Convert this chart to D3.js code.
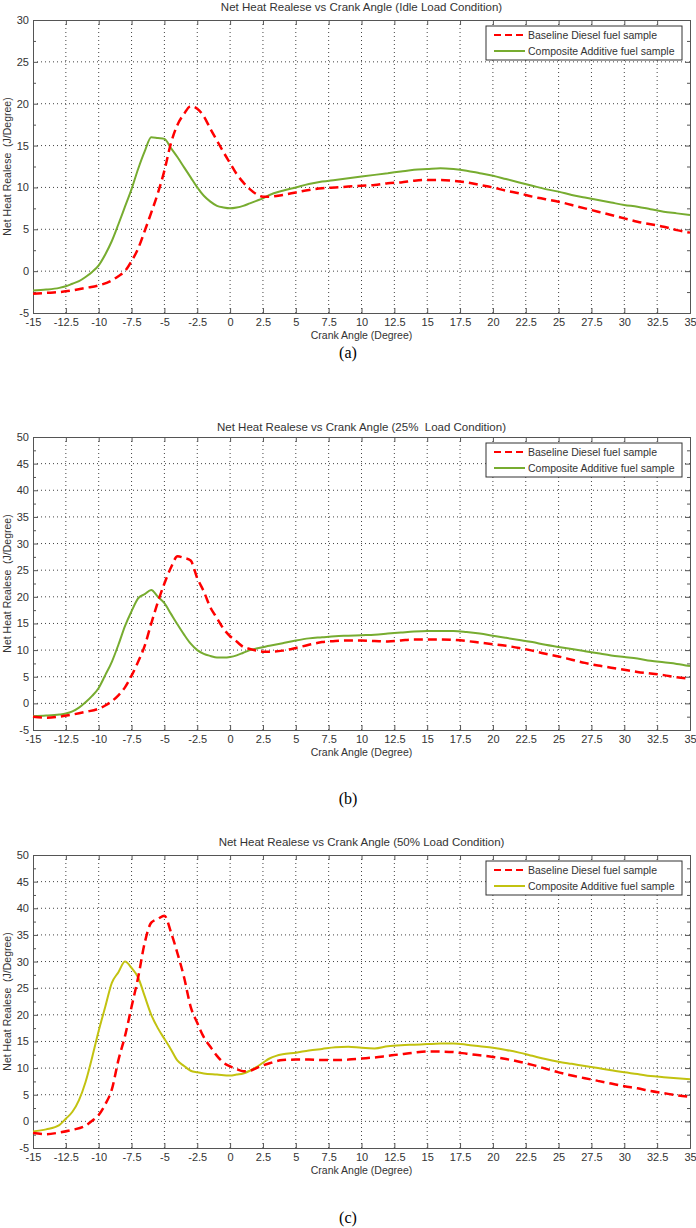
<!DOCTYPE html>
<html>
<head>
<meta charset="utf-8">
<script src="https://cdn.jsdelivr.net/npm/d3@7"></script>
<style>
  body { margin: 0; background: #fff; }
  svg { display: block; font-family: "Liberation Sans", Arial, sans-serif; }
  .tick text { fill: #333; font-size: 11px; }
  .axis path, .axis line { stroke: #555; }
  .pre { white-space: pre; }
</style>
</head>
<body>
<script>
// crank angle ticks shared by all three panels
const angleTicks = [-15, -12.5, -10, -7.5, -5, -2.5, 0, 2.5, 5, 7.5, 10, 12.5, 15, 17.5, 20, 22.5, 25, 27.5, 30, 32.5, 35];
const seriesNames = ['Baseline Diesel fuel sample', 'Composite Additive fuel sample'];

// (a) idle load : [angle, J/deg]
const idleBaseline = [[-15,-2.7],[-14,-2.6],[-13,-2.5],[-12,-2.3],[-11,-2.0],[-10,-1.7],[-9,-1.1],[-8.5,-0.6],[-8,0],[-7.5,1.2],[-7,2.7],[-6.5,4.8],[-6,7.0],[-5.5,9.3],[-5,12.0],[-4.5,15.3],[-4,17.5],[-3.5,18.8],[-3,19.7],[-2.5,19.4],[-2,18.5],[-1.5,17.0],[-1,15.6],[-0.5,14.2],[0,12.9],[0.5,11.6],[1,10.6],[1.5,9.8],[2,9.2],[2.5,8.9],[3,8.9],[4,9.1],[5,9.4],[6,9.7],[7,9.9],[8,10.0],[9,10.1],[10,10.2],[11,10.3],[12,10.5],[13,10.6],[14,10.8],[15,10.9],[16,10.9],[17,10.8],[18,10.6],[19,10.3],[20,10.0],[21,9.6],[22,9.3],[23,8.9],[24,8.6],[25,8.3],[26,7.9],[27,7.5],[28,7.1],[29,6.7],[30,6.3],[31,5.9],[32,5.6],[33,5.3],[34,4.9],[35,4.6]];
const idleAdditive = [[-15,-2.3],[-14,-2.2],[-13,-2.0],[-12.5,-1.8],[-12,-1.5],[-11.5,-1.2],[-11,-0.7],[-10.5,-0.1],[-10,0.7],[-9.5,2.0],[-9,3.6],[-8.5,5.6],[-8,7.7],[-7.5,9.8],[-7,12.2],[-6.5,14.3],[-6,16.0],[-5.5,15.9],[-5,15.8],[-4.5,14.7],[-4,13.6],[-3.5,12.4],[-3,11.2],[-2.5,10.0],[-2,9.0],[-1.5,8.3],[-1,7.8],[-0.5,7.6],[0,7.5],[0.5,7.6],[1,7.8],[1.5,8.1],[2,8.4],[2.5,8.7],[3,9.1],[4,9.6],[5,10.0],[6,10.4],[7,10.7],[8,10.9],[9,11.1],[10,11.3],[11,11.5],[12,11.7],[13,11.9],[14,12.1],[15,12.2],[16,12.3],[17,12.2],[18,12.0],[19,11.7],[20,11.4],[21,11.0],[22,10.6],[23,10.2],[24,9.8],[25,9.5],[26,9.1],[27,8.8],[28,8.5],[29,8.2],[30,7.9],[31,7.7],[32,7.4],[33,7.1],[34,6.9],[35,6.7]];

// (b) 25% load
const load25Baseline = [[-15,-2.5],[-14,-2.7],[-13,-2.5],[-12,-2.1],[-11,-1.6],[-10,-1.0],[-9.5,-0.4],[-9,0.4],[-8.5,1.5],[-8,3.0],[-7.5,5.2],[-7,7.8],[-6.5,10.8],[-6,15.0],[-5.5,19.0],[-5,22.5],[-4.5,25.5],[-4,27.6],[-3.5,27.3],[-3,26.8],[-2.5,23.5],[-2,21.0],[-1.5,18.0],[-1,16.0],[-0.5,14.0],[0,12.6],[0.5,11.6],[1,10.6],[1.5,10.2],[2,9.9],[2.5,9.7],[3,9.7],[4,9.9],[5,10.4],[6,11.0],[7,11.5],[8,11.7],[9,11.8],[10,11.8],[11,11.7],[12,11.6],[13,11.8],[14,12.0],[15,12.0],[16,12.0],[17,11.9],[18,11.7],[19,11.4],[20,11.1],[21,10.8],[22,10.4],[23,9.9],[24,9.3],[25,8.8],[26,8.2],[27,7.6],[28,7.1],[29,6.7],[30,6.3],[31,5.9],[32,5.6],[33,5.3],[34,4.9],[35,4.6]];
const load25Additive = [[-15,-2.4],[-14,-2.3],[-13,-2.1],[-12.5,-1.9],[-12,-1.5],[-11.5,-0.8],[-11,0.2],[-10.5,1.4],[-10,2.9],[-9.5,5.3],[-9,7.8],[-8.5,11.0],[-8,14.5],[-7.5,17.3],[-7,19.7],[-6.5,20.5],[-6,21.3],[-5.5,20.0],[-5,18.8],[-4.5,16.8],[-4,14.8],[-3.5,12.9],[-3,11.2],[-2.5,10.0],[-2,9.3],[-1.5,8.9],[-1,8.6],[-0.5,8.6],[0,8.7],[0.5,9.0],[1,9.5],[1.5,10.0],[2,10.3],[3,10.8],[4,11.3],[5,11.8],[6,12.2],[7,12.4],[8,12.6],[9,12.7],[10,12.8],[11,12.9],[12,13.1],[13,13.3],[14,13.5],[15,13.6],[16,13.6],[17,13.6],[18,13.4],[19,13.1],[20,12.7],[21,12.3],[22,11.9],[23,11.5],[24,11.0],[25,10.6],[26,10.2],[27,9.8],[28,9.4],[29,9.0],[30,8.7],[31,8.4],[32,8.0],[33,7.7],[34,7.4],[35,7.0]];

// (c) 50% load
const load50Baseline = [[-15,-2.2],[-14,-2.4],[-13,-2.1],[-12,-1.6],[-11,-0.8],[-10.5,0.1],[-10,1.2],[-9.5,3.2],[-9,6.0],[-8.5,11.5],[-8,16.0],[-7.5,21.5],[-7,27.0],[-6.5,33.5],[-6,37.3],[-5.5,38.0],[-5,38.6],[-4.5,35.5],[-4,31.5],[-3.5,27.0],[-3,21.5],[-2.5,18.5],[-2,15.8],[-1.5,14.0],[-1,12.3],[-0.5,11.0],[0,10.3],[0.5,9.8],[1,9.4],[1.5,9.5],[2,10.0],[2.5,10.5],[3,10.9],[4,11.5],[5,11.6],[6,11.6],[7,11.5],[8,11.5],[9,11.6],[10,11.8],[11,12.0],[12,12.3],[13,12.6],[14,12.9],[15,13.1],[16,13.1],[17,13.0],[18,12.7],[19,12.4],[20,12.1],[21,11.7],[22,11.2],[23,10.6],[24,9.9],[25,9.2],[26,8.6],[27,8.1],[28,7.6],[29,7.1],[30,6.6],[31,6.2],[32,5.7],[33,5.3],[34,4.9],[35,4.6]];
const load50Additive = [[-15,-1.9],[-14,-1.5],[-13,-0.7],[-12.5,0.5],[-12,1.8],[-11.5,4.0],[-11,7.4],[-10.5,12.0],[-10,17.0],[-9.5,21.5],[-9,26.0],[-8.5,28.0],[-8,30.0],[-7.5,28.8],[-7,27.0],[-6.5,23.5],[-6,20.0],[-5.5,17.5],[-5,15.5],[-4.5,13.5],[-4,11.4],[-3.5,10.4],[-3,9.5],[-2.5,9.2],[-2,9.0],[-1,8.8],[0,8.6],[0.5,8.8],[1,9.0],[1.5,9.5],[2,10.2],[2.5,11.0],[3,11.8],[3.5,12.3],[4,12.6],[5,12.9],[6,13.3],[7,13.6],[8,13.9],[9,14.0],[10,13.8],[11,13.7],[12,14.1],[13,14.3],[14,14.4],[15,14.5],[16,14.6],[17,14.6],[18,14.4],[19,14.1],[20,13.8],[21,13.4],[22,12.9],[23,12.3],[24,11.7],[25,11.2],[26,10.8],[27,10.4],[28,10.0],[29,9.6],[30,9.2],[31,8.9],[32,8.5],[33,8.3],[34,8.1],[35,7.9]];

const panels = [
  { title: 'Net Heat Realese vs Crank Angle (Idle Load Condition)', caption: '(a)',
    top: 20, yMax: 30, titleY: 11, captionY: 358, color: '#77ac30',
    baseline: idleBaseline, additive: idleAdditive },
  { title: 'Net Heat Realese vs Crank Angle (25%  Load Condition)', caption: '(b)',
    top: 437, yMax: 50, titleY: 431, captionY: 804, color: '#77ac30',
    baseline: load25Baseline, additive: load25Additive },
  { title: 'Net Heat Realese vs Crank Angle (50% Load Condition)', caption: '(c)',
    top: 855, yMax: 50, titleY: 846, captionY: 1223, color: '#c2c210',
    baseline: load50Baseline, additive: load50Additive }
];

const W = 696, H = 1228;
const left = 33, right = 690, plotH = 293;

const svg = d3.select('body').append('svg')
  .attr('width', W)
  .attr('height', H);

const x = d3.scaleLinear().domain([-15, 35]).range([left, right]);

panels.forEach(p => {
  const bottom = p.top + plotH;
  const y = d3.scaleLinear().domain([-5, p.yMax]).range([bottom, p.top]);
  const yTicks = d3.range(-5, p.yMax + 0.1, 5);
  const yMinor = d3.range(-2.5, p.yMax, 5);
  const g = svg.append('g');

  // dotted grid
  g.append('g').selectAll('line')
    .data(angleTicks.slice(1, -1))
    .join('line')
      .attr('x1', d => x(d)).attr('x2', d => x(d))
      .attr('y1', p.top).attr('y2', bottom)
      .attr('stroke', '#444').attr('stroke-dasharray', '1,3');
  g.append('g').selectAll('line')
    .data(yTicks.slice(1, -1))
    .join('line')
      .attr('y1', d => y(d)).attr('y2', d => y(d))
      .attr('x1', left).attr('x2', right)
      .attr('stroke', '#444').attr('stroke-dasharray', '1,3');

  // axes, matlab style with inward ticks on every side
  g.append('g').attr('class', 'axis')
    .attr('transform', `translate(0,${bottom})`)
    .call(d3.axisBottom(x).tickValues(angleTicks).tickSize(-5).tickPadding(5).tickFormat(d => String(d)));
  g.append('g').attr('class', 'axis')
    .attr('transform', `translate(0,${p.top})`)
    .call(d3.axisTop(x).tickValues(angleTicks).tickSize(-5).tickFormat(''));
  g.append('g').attr('class', 'axis')
    .attr('transform', `translate(${left},0)`)
    .call(d3.axisLeft(y).tickValues(yTicks).tickSize(-5).tickPadding(4).tickFormat(d => String(d)));
  g.append('g').attr('class', 'axis')
    .attr('transform', `translate(${right},0)`)
    .call(d3.axisRight(y).tickValues(yTicks).tickSize(-5).tickFormat(''));
  g.append('g').attr('class', 'axis')
    .attr('transform', `translate(${left},0)`)
    .call(d3.axisLeft(y).tickValues(yMinor).tickSize(-3).tickFormat(''))
    .select('.domain').remove();
  g.append('g').attr('class', 'axis')
    .attr('transform', `translate(${right},0)`)
    .call(d3.axisRight(y).tickValues(yMinor).tickSize(-3).tickFormat(''))
    .select('.domain').remove();

  // curves
  const line = d3.line()
    .x(d => x(d[0]))
    .y(d => y(d[1]))
    .curve(d3.curveMonotoneX);

  g.append('path')
    .datum(p.additive)
    .attr('d', line)
    .attr('fill', 'none')
    .attr('stroke', p.color)
    .attr('stroke-width', 2);
  g.append('path')
    .datum(p.baseline)
    .attr('d', line)
    .attr('fill', 'none')
    .attr('stroke', '#ff0000')
    .attr('stroke-width', 2.5)
    .attr('stroke-dasharray', '9,5');

  // texts
  g.append('text')
    .attr('class', 'pre')
    .attr('x', (left + right) / 2).attr('y', p.titleY)
    .attr('text-anchor', 'middle')
    .attr('font-size', 11.5).attr('fill', '#333')
    .text(p.title);
  g.append('text')
    .attr('x', (left + right) / 2).attr('y', bottom + 26)
    .attr('text-anchor', 'middle')
    .attr('font-size', 10.5).attr('fill', '#333')
    .text('Crank Angle (Degree)');
  g.append('text')
    .attr('class', 'pre')
    .attr('transform', `translate(11,${(p.top + bottom) / 2}) rotate(-90)`)
    .attr('text-anchor', 'middle')
    .attr('font-size', 10.5).attr('fill', '#333')
    .text('Net Heat Realese  (J/Degree)');
  g.append('text')
    .attr('x', 348).attr('y', p.captionY)
    .attr('text-anchor', 'middle')
    .attr('font-family', '"Liberation Serif", "Times New Roman", serif')
    .attr('font-size', 16).attr('fill', '#000')
    .text(p.caption);

  // legend
  const lg = g.append('g').attr('transform', `translate(486,${p.top + 6})`);
  lg.append('rect')
    .attr('width', 196).attr('height', 34)
    .attr('fill', '#fff').attr('stroke', '#333');
  const styles = [
    { stroke: '#ff0000', dash: '7,4', w: 2.2 },
    { stroke: p.color, dash: null, w: 2 }
  ];
  seriesNames.forEach((name, i) => {
    const yy = 9 + i * 16;
    lg.append('line')
      .attr('x1', 8).attr('x2', 39)
      .attr('y1', yy).attr('y2', yy)
      .attr('stroke', styles[i].stroke)
      .attr('stroke-width', styles[i].w)
      .attr('stroke-dasharray', styles[i].dash);
    lg.append('text')
      .attr('x', 42).attr('y', yy + 4)
      .attr('font-size', 10.5).attr('fill', '#333')
      .text(name);
  });
});
</script>
</body>
</html>
